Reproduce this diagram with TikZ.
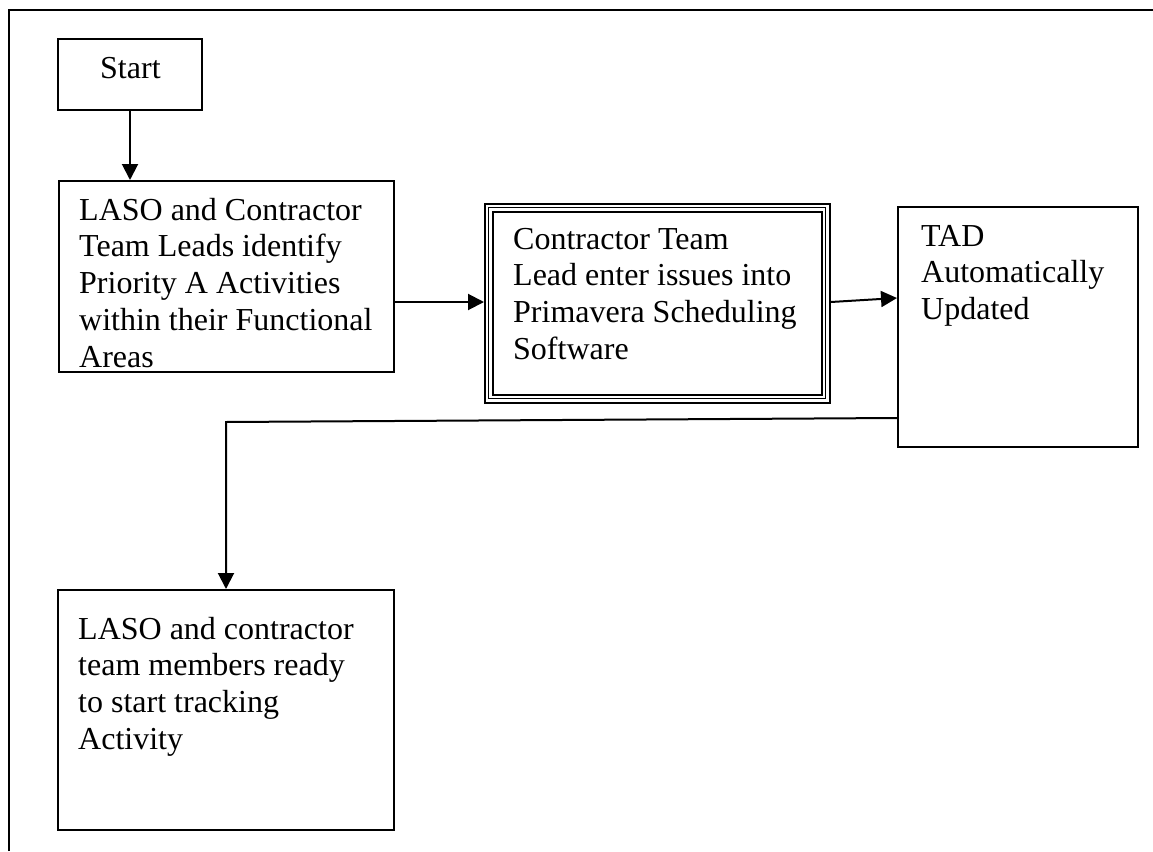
\documentclass[tikz,border=0pt]{standalone}
\usepackage{fontspec}
\setmainfont{Liberation Serif}
\usetikzlibrary{arrows.meta}
\begin{document}
\begin{tikzpicture}[x=1pt,y=-1pt,
  box/.style={draw, line width=2pt, rectangle, inner sep=0pt, anchor=north west},
  txt/.style={anchor=base west, inner sep=0pt, text width=340pt, align=flush left, font=\fontsize{32}{36.8}\selectfont},
  arr/.style={line width=2pt, -{Triangle[length=16pt,width=16pt]}},
  frame/.style={line width=2.5pt}]
\useasboundingbox (0,0) rectangle (1153,851);
\draw[frame] (9,851) -- (9,10) -- (1153,10);
% Start
\node[box, minimum width=144pt, minimum height=71pt] (start) at (57,38) {};
\node[txt] (startT) at (100,78) {Start};
% Box 1
\node[box, minimum width=335pt, minimum height=191pt] (b1) at (58,180) {};
\node[txt] (b1T) at (79,220) {LASO and Contractor\\Team Leads identify\\Priority A Activities\\within their Functional\\Areas};
% Box 2 (triple border)
\node[box, minimum width=345pt, minimum height=199pt] (b2) at (484,203) {};
\node[box, line width=1pt, minimum width=337pt, minimum height=191pt] (b2m) at (488,207) {};
\node[box, minimum width=329pt, minimum height=183pt] (b2i) at (492,211) {};
\node[txt] (b2T) at (513,249) {Contractor Team\\Lead enter issues into\\Primavera Scheduling\\Software};
% Box 3
\node[box, minimum width=240pt, minimum height=240pt] (b3) at (897,206) {};
\node[txt] (b3T) at (921,246) {TAD\\Automatically\\Updated};
% Box 4
\node[box, minimum width=336pt, minimum height=240pt] (b4) at (57,589) {};
\node[txt] (b4T) at (78,639) {LASO and contractor\\team members ready\\to start tracking\\Activity};
% Connectors
\draw[arr] (start.south) -- (start.south |- b1.north);
\draw[arr] (b1.east |- 0,302) -- (b2.west |- 0,302);
\draw[arr] (b2.east |- 0,302) -- (b3.west |- 0,298);
\draw[arr] (b3.west |- 0,418) -- (b4.north |- 0,422) -- (b4.north);
\end{tikzpicture}
\end{document}
